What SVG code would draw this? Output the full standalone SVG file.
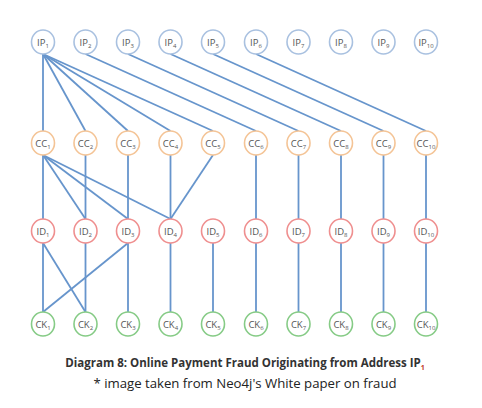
<svg xmlns="http://www.w3.org/2000/svg" width="482" height="408" viewBox="0 0 482 408">
<style>
.n{fill:#fff;stroke-width:1.6}
.ip{stroke:#a9c1e0}
.cc{stroke:#f4c496}
.id{stroke:#ef8f8f}
.ck{stroke:#86cb86}
.t{font-family:"Open Sans","DejaVu Sans",sans-serif;font-size:9.5px;fill:#555;text-anchor:middle}
.s{font-size:6px}
#edges line{stroke:#6795cc;stroke-width:1.8}
.c1{font-family:"Open Sans","DejaVu Sans",sans-serif;font-size:11.5px;font-weight:bold;fill:#333;text-anchor:middle}
.c2{font-family:"Open Sans","DejaVu Sans",sans-serif;font-size:13.2px;fill:#222;text-anchor:middle}
</style>
<rect width="482" height="408" fill="#fff"/>
<g id="edges">
<line x1="43" y1="54" x2="43" y2="131"/>
<line x1="43" y1="54" x2="85.5" y2="131"/>
<line x1="43" y1="54" x2="128" y2="131"/>
<line x1="43" y1="54" x2="170.5" y2="131"/>
<line x1="43" y1="54" x2="213" y2="131"/>
<line x1="85.5" y1="54" x2="256" y2="131"/>
<line x1="128" y1="54" x2="298.5" y2="131"/>
<line x1="170.5" y1="54" x2="341" y2="131"/>
<line x1="213" y1="54" x2="383.5" y2="131"/>
<line x1="256" y1="54" x2="426" y2="131"/>
<line x1="43" y1="155" x2="43" y2="219"/>
<line x1="43" y1="155" x2="85.5" y2="219"/>
<line x1="43" y1="155" x2="128" y2="219"/>
<line x1="43" y1="155" x2="170.5" y2="219"/>
<line x1="85.5" y1="155" x2="85.5" y2="219"/>
<line x1="128" y1="155" x2="128" y2="219"/>
<line x1="170.5" y1="155" x2="170.5" y2="219"/>
<line x1="213" y1="155" x2="170.5" y2="219"/>
<line x1="256" y1="155" x2="256" y2="219"/>
<line x1="298.5" y1="155" x2="298.5" y2="219"/>
<line x1="341" y1="155" x2="341" y2="219"/>
<line x1="383.5" y1="155" x2="383.5" y2="219"/>
<line x1="426" y1="155" x2="426" y2="219"/>
<line x1="43" y1="243" x2="43" y2="312"/>
<line x1="43" y1="243" x2="85.5" y2="312"/>
<line x1="85.5" y1="243" x2="85.5" y2="312"/>
<line x1="128" y1="243" x2="43" y2="312"/>
<line x1="128" y1="243" x2="128" y2="312"/>
<line x1="170.5" y1="243" x2="170.5" y2="312"/>
<line x1="213" y1="243" x2="213" y2="312"/>
<line x1="256" y1="243" x2="256" y2="312"/>
<line x1="298.5" y1="243" x2="298.5" y2="312"/>
<line x1="341" y1="243" x2="341" y2="312"/>
<line x1="383.5" y1="243" x2="383.5" y2="312"/>
<line x1="426" y1="243" x2="426" y2="312"/>
</g>
<g id="IP1"><ellipse class="n ip" cx="43" cy="42" rx="11.5" ry="12"/><text class="t" x="43" y="45.5">IP<tspan class="s" dy="2">1</tspan></text></g>
<g id="IP2"><ellipse class="n ip" cx="85.5" cy="42" rx="11.5" ry="12"/><text class="t" x="85.5" y="45.5">IP<tspan class="s" dy="2">2</tspan></text></g>
<g id="IP3"><ellipse class="n ip" cx="128" cy="42" rx="11.5" ry="12"/><text class="t" x="128" y="45.5">IP<tspan class="s" dy="2">3</tspan></text></g>
<g id="IP4"><ellipse class="n ip" cx="170.5" cy="42" rx="11.5" ry="12"/><text class="t" x="170.5" y="45.5">IP<tspan class="s" dy="2">4</tspan></text></g>
<g id="IP5"><ellipse class="n ip" cx="213" cy="42" rx="11.5" ry="12"/><text class="t" x="213" y="45.5">IP<tspan class="s" dy="2">5</tspan></text></g>
<g id="IP6"><ellipse class="n ip" cx="256" cy="42" rx="11.5" ry="12"/><text class="t" x="256" y="45.5">IP<tspan class="s" dy="2">6</tspan></text></g>
<g id="IP7"><ellipse class="n ip" cx="298.5" cy="42" rx="11.5" ry="12"/><text class="t" x="298.5" y="45.5">IP<tspan class="s" dy="2">7</tspan></text></g>
<g id="IP8"><ellipse class="n ip" cx="341" cy="42" rx="11.5" ry="12"/><text class="t" x="341" y="45.5">IP<tspan class="s" dy="2">8</tspan></text></g>
<g id="IP9"><ellipse class="n ip" cx="383.5" cy="42" rx="11.5" ry="12"/><text class="t" x="383.5" y="45.5">IP<tspan class="s" dy="2">9</tspan></text></g>
<g id="IP10"><ellipse class="n ip" cx="426" cy="42" rx="11.5" ry="12"/><text class="t" x="426" y="45.5">IP<tspan class="s" dy="2">10</tspan></text></g>
<g id="CC1"><ellipse class="n cc" cx="43" cy="143" rx="11.5" ry="12"/><text class="t" x="43" y="146.5">CC<tspan class="s" dy="2">1</tspan></text></g>
<g id="CC2"><ellipse class="n cc" cx="85.5" cy="143" rx="11.5" ry="12"/><text class="t" x="85.5" y="146.5">CC<tspan class="s" dy="2">2</tspan></text></g>
<g id="CC3"><ellipse class="n cc" cx="128" cy="143" rx="11.5" ry="12"/><text class="t" x="128" y="146.5">CC<tspan class="s" dy="2">3</tspan></text></g>
<g id="CC4"><ellipse class="n cc" cx="170.5" cy="143" rx="11.5" ry="12"/><text class="t" x="170.5" y="146.5">CC<tspan class="s" dy="2">4</tspan></text></g>
<g id="CC5"><ellipse class="n cc" cx="213" cy="143" rx="11.5" ry="12"/><text class="t" x="213" y="146.5">CC<tspan class="s" dy="2">5</tspan></text></g>
<g id="CC6"><ellipse class="n cc" cx="256" cy="143" rx="11.5" ry="12"/><text class="t" x="256" y="146.5">CC<tspan class="s" dy="2">6</tspan></text></g>
<g id="CC7"><ellipse class="n cc" cx="298.5" cy="143" rx="11.5" ry="12"/><text class="t" x="298.5" y="146.5">CC<tspan class="s" dy="2">7</tspan></text></g>
<g id="CC8"><ellipse class="n cc" cx="341" cy="143" rx="11.5" ry="12"/><text class="t" x="341" y="146.5">CC<tspan class="s" dy="2">8</tspan></text></g>
<g id="CC9"><ellipse class="n cc" cx="383.5" cy="143" rx="11.5" ry="12"/><text class="t" x="383.5" y="146.5">CC<tspan class="s" dy="2">9</tspan></text></g>
<g id="CC10"><ellipse class="n cc" cx="426" cy="143" rx="11.5" ry="12"/><text class="t" x="426" y="146.5">CC<tspan class="s" dy="2">10</tspan></text></g>
<g id="ID1"><ellipse class="n id" cx="43" cy="231" rx="11.5" ry="12"/><text class="t" x="43" y="234.5">ID<tspan class="s" dy="2">1</tspan></text></g>
<g id="ID2"><ellipse class="n id" cx="85.5" cy="231" rx="11.5" ry="12"/><text class="t" x="85.5" y="234.5">ID<tspan class="s" dy="2">2</tspan></text></g>
<g id="ID3"><ellipse class="n id" cx="128" cy="231" rx="11.5" ry="12"/><text class="t" x="128" y="234.5">ID<tspan class="s" dy="2">3</tspan></text></g>
<g id="ID4"><ellipse class="n id" cx="170.5" cy="231" rx="11.5" ry="12"/><text class="t" x="170.5" y="234.5">ID<tspan class="s" dy="2">4</tspan></text></g>
<g id="ID5"><ellipse class="n id" cx="213" cy="231" rx="11.5" ry="12"/><text class="t" x="213" y="234.5">ID<tspan class="s" dy="2">5</tspan></text></g>
<g id="ID6"><ellipse class="n id" cx="256" cy="231" rx="11.5" ry="12"/><text class="t" x="256" y="234.5">ID<tspan class="s" dy="2">6</tspan></text></g>
<g id="ID7"><ellipse class="n id" cx="298.5" cy="231" rx="11.5" ry="12"/><text class="t" x="298.5" y="234.5">ID<tspan class="s" dy="2">7</tspan></text></g>
<g id="ID8"><ellipse class="n id" cx="341" cy="231" rx="11.5" ry="12"/><text class="t" x="341" y="234.5">ID<tspan class="s" dy="2">8</tspan></text></g>
<g id="ID9"><ellipse class="n id" cx="383.5" cy="231" rx="11.5" ry="12"/><text class="t" x="383.5" y="234.5">ID<tspan class="s" dy="2">9</tspan></text></g>
<g id="ID10"><ellipse class="n id" cx="426" cy="231" rx="11.5" ry="12"/><text class="t" x="426" y="234.5">ID<tspan class="s" dy="2">10</tspan></text></g>
<g id="CK1"><ellipse class="n ck" cx="43" cy="324" rx="11.5" ry="12"/><text class="t" x="43" y="327.5">CK<tspan class="s" dy="2">1</tspan></text></g>
<g id="CK2"><ellipse class="n ck" cx="85.5" cy="324" rx="11.5" ry="12"/><text class="t" x="85.5" y="327.5">CK<tspan class="s" dy="2">2</tspan></text></g>
<g id="CK3"><ellipse class="n ck" cx="128" cy="324" rx="11.5" ry="12"/><text class="t" x="128" y="327.5">CK<tspan class="s" dy="2">3</tspan></text></g>
<g id="CK4"><ellipse class="n ck" cx="170.5" cy="324" rx="11.5" ry="12"/><text class="t" x="170.5" y="327.5">CK<tspan class="s" dy="2">4</tspan></text></g>
<g id="CK5"><ellipse class="n ck" cx="213" cy="324" rx="11.5" ry="12"/><text class="t" x="213" y="327.5">CK<tspan class="s" dy="2">5</tspan></text></g>
<g id="CK6"><ellipse class="n ck" cx="256" cy="324" rx="11.5" ry="12"/><text class="t" x="256" y="327.5">CK<tspan class="s" dy="2">6</tspan></text></g>
<g id="CK7"><ellipse class="n ck" cx="298.5" cy="324" rx="11.5" ry="12"/><text class="t" x="298.5" y="327.5">CK<tspan class="s" dy="2">7</tspan></text></g>
<g id="CK8"><ellipse class="n ck" cx="341" cy="324" rx="11.5" ry="12"/><text class="t" x="341" y="327.5">CK<tspan class="s" dy="2">8</tspan></text></g>
<g id="CK9"><ellipse class="n ck" cx="383.5" cy="324" rx="11.5" ry="12"/><text class="t" x="383.5" y="327.5">CK<tspan class="s" dy="2">9</tspan></text></g>
<g id="CK10"><ellipse class="n ck" cx="426" cy="324" rx="11.5" ry="12"/><text class="t" x="426" y="327.5">CK<tspan class="s" dy="2">10</tspan></text></g>
<g id="caption">
<text class="c1" x="245" y="367">Diagram 8: Online Payment Fraud Originating from Address IP<tspan font-size="7" fill="#c0392b" dy="2.5">1</tspan></text>
<text class="c2" x="245" y="388">* image taken from Neo4j's White paper on fraud</text>
</g>
</svg>
